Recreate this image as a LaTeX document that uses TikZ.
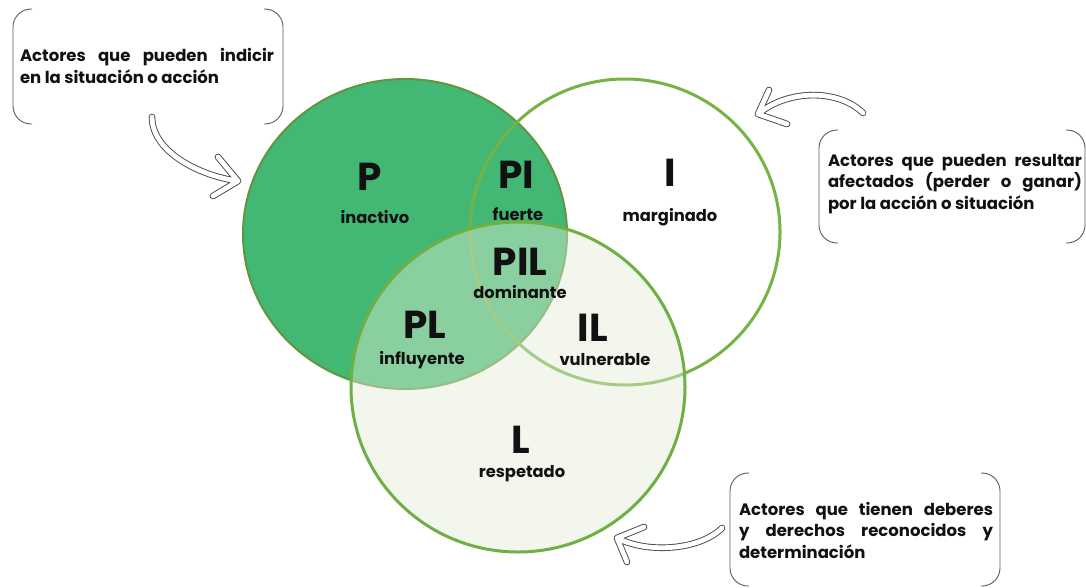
\documentclass[tikz,border=0pt]{standalone}
\usepackage{fontspec}
\setmainfont{Poppins}
\definecolor{pfill}{RGB}{66,184,116}
\definecolor{pline}{RGB}{96,150,62}
\definecolor{iline}{RGB}{116,179,68}
\definecolor{lline}{RGB}{111,175,69}
\definecolor{lfill}{RGB}{226,236,214}
\definecolor{ink}{RGB}{17,17,17}
\definecolor{frame}{RGB}{90,90,90}
\definecolor{arrowgray}{RGB}{70,70,70}
\begin{document}
\begin{tikzpicture}[x=1pt,y=-1pt,
  biglabel/.style={font=\bfseries\fontsize{39}{39}\selectfont, text=ink, inner sep=0pt},
  sublabel/.style={font=\bfseries\fontsize{16.3}{16.3}\selectfont, text=ink, inner sep=0pt},
  note/.style={text width=254pt, align=justify, text=ink, inner sep=0pt,
    font=\bfseries\fontsize{16.5}{21.5}\selectfont},
  bracket/.style={draw=frame, line width=0.9pt, rounded corners=18pt},
  hollow/.style={draw=arrowgray, double=white, double distance=4.8pt, line width=0.9pt,
    line cap=round, line join=round}]
\useasboundingbox (0,0) rectangle (1086,587);

% the three sets
\fill[pfill] (405,234) ellipse [x radius=162pt, y radius=155pt];
\draw[pline, line width=2pt] (405,234) ellipse [x radius=162pt, y radius=155pt];
\draw[iline, line width=3pt] (625,232) ellipse [x radius=155pt, y radius=153pt];
\fill[lfill, fill opacity=0.45] (518,387) ellipse [x radius=167pt, y radius=165pt];
\draw[lline, line width=3pt] (518,387) ellipse [x radius=167pt, y radius=165pt];

% region labels
\node[biglabel] (p)   at (370,177) {P};
\node[sublabel] (pt)  at (375,217) {inactivo};
\node[biglabel] (pi)  at (516,175) {PI};
\node[sublabel] (pit) at (518,214) {fuerte};
\node[biglabel] (i)   at (670,173) {I};
\node[sublabel] (it)  at (670,217) {marginado};
\node[biglabel] (pil) at (520,262) {PIL};
\node[sublabel] (pilt) at (520,292) {dominante};
\node[biglabel] (pl)  at (425,325) {PL};
\node[sublabel] (plt) at (422,360) {influyente};
\node[biglabel] (il)  at (593,328) {IL};
\node[sublabel] (ilt) at (605,360) {vulnerable};
\node[biglabel] (l)   at (521,440) {L};
\node[sublabel] (lt)  at (522,474) {respetado};

% notes with bracket frames
\node[note] (n1) at (147,66) {Actores que pueden indicir\linebreak en la situación o acción};
\draw[bracket] (32,9) -| (13,124) -- (32,124);
\draw[bracket] (264,9) -| (283,124) -- (264,124);

\node[note] (n2) at (955,184) {Actores que pueden resultar\linebreak afectados (perder o ganar)\linebreak por la acción o situación};
\draw[bracket] (838,130) -| (819,243) -- (838,243);
\draw[bracket] (1066,130) -| (1085,243) -- (1066,243);

\node[note] (n3) at (866,530) {Actores que tienen deberes\linebreak y derechos reconocidos y\linebreak determinación};
\draw[bracket] (749,473) -| (730,586) -- (749,586);
\draw[bracket] (981,473) -| (1000,586) -- (981,586);

% hollow curved arrows
\coordinate (a1s) at (152,117);
\coordinate (a1t) at (238,181);
\coordinate (a1u) at (218,157);
\coordinate (a1d) at (213,196);
\draw[hollow] (a1s) .. controls (152,152) and (200,176) .. (a1t) (a1u) -- (a1t) -- (a1d);

\coordinate (a2s) at (863,113);
\coordinate (a2t) at (758,114);
\coordinate (a2u) at (769,90);
\coordinate (a2d) at (787,124);
\draw[hollow] (a2s) .. controls (840,90) and (790,88) .. (a2t) (a2u) -- (a2t) -- (a2d);

\coordinate (a3s) at (722,528);
\coordinate (a3t) at (617,538);
\coordinate (a3u) at (644,527);
\coordinate (a3d) at (627,562);
\draw[hollow] (a3s) .. controls (700,550) and (648,554) .. (a3t) (a3u) -- (a3t) -- (a3d);
\end{tikzpicture}
\end{document}
